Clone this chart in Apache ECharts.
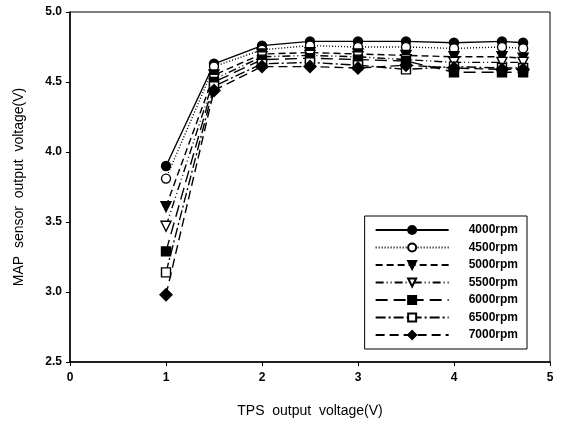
<!DOCTYPE html>
<html>
<head>
<meta charset="utf-8">
<script src="https://cdn.jsdelivr.net/npm/echarts@6/dist/echarts.min.js"></script>
<style>
  html, body { margin: 0; padding: 0; background: #fff; }
  #chart { width: 563px; height: 426px; }
</style>
</head>
<body>
<div id="chart"></div>
<script>
// TPS output voltage (V) sample points
var tps = [1, 1.5, 2, 2.5, 3, 3.5, 4, 4.5, 4.72];

// MAP sensor output voltage (V) per engine speed
var rpm4000 = [3.90, 4.63, 4.76, 4.79, 4.79, 4.79, 4.78, 4.79, 4.78];
var rpm4500 = [3.81, 4.61, 4.73, 4.76, 4.75, 4.75, 4.74, 4.75, 4.74];
var rpm5000 = [3.61, 4.55, 4.70, 4.71, 4.70, 4.69, 4.68, 4.68, 4.67];
var rpm5500 = [3.47, 4.52, 4.68, 4.69, 4.68, 4.66, 4.64, 4.64, 4.64];
var rpm6000 = [3.29, 4.50, 4.66, 4.67, 4.66, 4.65, 4.57, 4.57, 4.57];
var rpm6500 = [3.14, 4.47, 4.63, 4.64, 4.62, 4.59, 4.61, 4.60, 4.60];
var rpm7000 = [2.98, 4.44, 4.61, 4.61, 4.60, 4.62, 4.60, 4.59, 4.59];

var seriesNames = ['4000rpm', '4500rpm', '5000rpm', '5500rpm', '6000rpm', '6500rpm', '7000rpm'];
var seriesValues = [rpm4000, rpm4500, rpm5000, rpm5500, rpm6000, rpm6500, rpm7000];

var xTicks = [0, 1, 2, 3, 4, 5];
var yTicks = [2.5, 3.0, 3.5, 4.0, 4.5, 5.0];

// line dash + marker per curve
var tri = 'path://M0,0L10,0L5,10Z';
var styles = [
  { dash: 'solid',            symbol: 'circle',  size: 9,  fill: '#000' },
  { dash: [1, 2],             symbol: 'circle',  size: 9,  fill: '#fff' },
  { dash: [7, 4],             symbol: tri,       size: 10, fill: '#000' },
  { dash: [8, 3, 1, 3, 1, 3], symbol: tri,       size: 10, fill: '#fff' },
  { dash: [12, 6],            symbol: 'rect',    size: 9,  fill: '#000' },
  { dash: [10, 3, 2, 3],      symbol: 'rect',    size: 9,  fill: '#fff' },
  { dash: [9, 5],             symbol: 'diamond', size: 12, fill: '#000' }
];

function pairs(values) {
  return values.map(function (v, i) { return [tps[i], v]; });
}

var series = seriesNames.map(function (name, k) {
  var st = styles[k];
  return {
    name: name,
    type: 'line',
    data: pairs(seriesValues[k]),
    symbol: st.symbol,
    symbolSize: st.size,
    lineStyle: { color: '#000', width: 1.4, type: st.dash },
    itemStyle: { color: st.fill, borderColor: '#000', borderWidth: 1.4 },
    emphasis: { disabled: true },
    animation: false
  };
});

var font = '"Liberation Sans", Arial, sans-serif';

var chart = echarts.init(document.getElementById('chart'), null, { renderer: 'canvas' });
chart.setOption({
  backgroundColor: '#fff',
  animation: false,
  grid: {
    left: 70, right: 13, top: 12, bottom: 64,
    show: true, borderColor: '#000', borderWidth: 1
  },
  legend: {
    orient: 'vertical',
    right: 36,
    bottom: 77,
    itemWidth: 73,
    itemHeight: 10,
    itemGap: 5.5,
    padding: [8, 9, 8, 10],
    borderColor: '#000',
    borderWidth: 1,
    backgroundColor: '#fff',
    textStyle: { fontFamily: font, fontSize: 12, fontWeight: 'bold', color: '#000', padding: [0, 0, 0, 15] },
    data: seriesNames
  },
  xAxis: {
    type: 'value',
    min: xTicks[0],
    max: xTicks[xTicks.length - 1],
    interval: 1,
    name: 'TPS  output  voltage(V)',
    nameLocation: 'middle',
    nameGap: 42,
    nameTextStyle: { fontFamily: font, fontSize: 14, color: '#000' },
    axisLine: { lineStyle: { color: '#000', width: 1.5 } },
    axisTick: { show: true, length: 4, lineStyle: { color: '#000' } },
    axisLabel: { fontFamily: font, fontSize: 12, fontWeight: 'bold', color: '#000', margin: 10 },
    splitLine: { show: false }
  },
  yAxis: {
    type: 'value',
    min: yTicks[0],
    max: yTicks[yTicks.length - 1],
    interval: 0.5,
    name: 'MAP  sensor  output  voltage(V)',
    nameLocation: 'middle',
    nameGap: 44,
    nameTextStyle: { fontFamily: font, fontSize: 14, color: '#000' },
    axisLine: { lineStyle: { color: '#000', width: 1.5 } },
    axisTick: { show: true, length: 4, lineStyle: { color: '#000' } },
    axisLabel: {
      fontFamily: font, fontSize: 12, fontWeight: 'bold', color: '#000', margin: 8,
      formatter: function (v) { return v.toFixed(1); }
    },
    splitLine: { show: false }
  },
  series: series
});
</script>
</body>
</html>
